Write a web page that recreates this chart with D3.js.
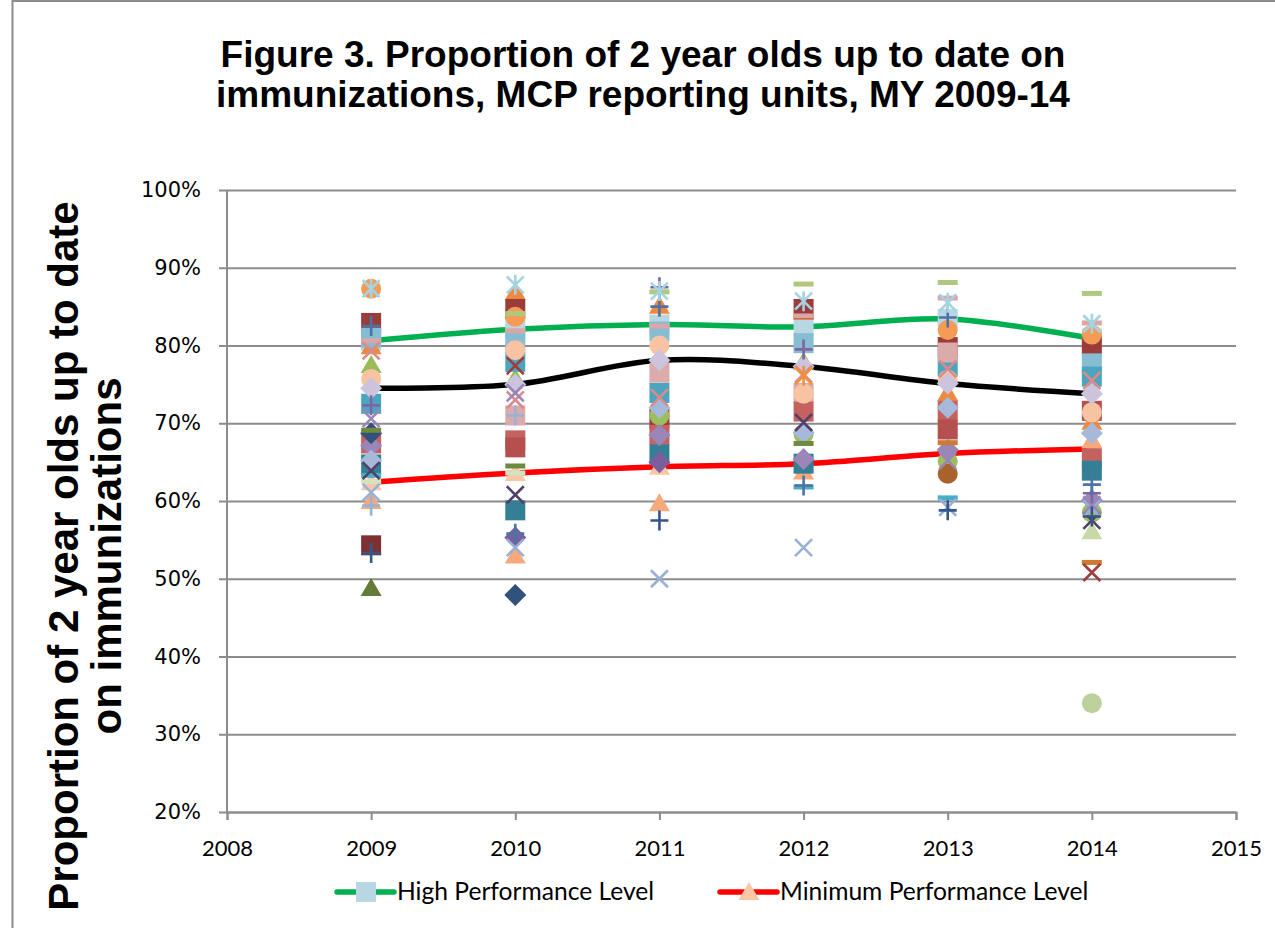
<!DOCTYPE html>
<html><head><meta charset="utf-8">
<script src="https://cdn.jsdelivr.net/npm/d3@7"></script>
<style>body{margin:0;background:#fff}</style>
</head><body>
<svg id="chart" width="1275" height="928"></svg>
<script>
// ---------- DATA ----------
const years = [2009, 2010, 2011, 2012, 2013, 2014];
const xTickValues = [2008, 2009, 2010, 2011, 2012, 2013, 2014, 2015];
const yTickValues = [20, 30, 40, 50, 60, 70, 80, 90, 100];

const highLevel = [80.6, 82.1, 82.7, 82.4, 83.4, 80.9];   // High Performance Level
const avgLevel  = [74.5, 75.0, 78.1, 77.3, 75.1, 73.8];   // average (black)
const minLevel  = [62.4, 63.6, 64.4, 64.8, 66.1, 66.7];   // Minimum Performance Level

// reporting units, one row each (values per year, % up to date)
const unitValues = [
  [79.9, 86.9, 85.1, 84.3, 73.9, 70.2],
  [77.5, 75.8, null, 77.9, null, null],
  [60.0, 53.0, 59.7, 63.8, 69.4, 67.8],
  [48.8, null, null, null, null, null],
  [null, null, null, null, null, 56.1],
  [82.9, 84.7, 70.6, 84.7, 79.8, 80.0],
  [81.0, 80.5, 81.8, 80.3, null, 77.7],
  [72.5, 77.9, 73.9, null, 77.3, 76.0],
  [null, 71.0, 76.5, 73.9, 79.1, null],
  [67.4, 67.8, 68.5, 71.5, 71.6, 65.5],
  [null, 66.9, null, null, 69.2, 71.6],
  [64.7, 58.8, 66.0, 64.8, null, 63.9],
  [54.3, null, null, null, null, null],
  [87.3, 83.7, null, null, 82.0, 81.4],
  [75.7, 79.4, 80.0, 73.8, 75.6, 71.4],
  [null, null, 71.0, 68.6, 65.1, 58.5],
  [null, null, null, null, 63.5, null],
  [null, null, null, null, null, 34.0],
  [67.1, null, 68.5, 65.4, 66.6, 60.1],
  [null, 55.3, 65.0, null, null, null],
  [65.2, null, 72.0, 68.8, 72.0, 68.7],
  [68.7, 47.9, null, null, null, null],
  [80.6, 81.9, 82.5, 83.8, 86.1, 82.9],
  [69.1, 64.5, null, 67.4, null, null],
  [63.3, null, null, 61.8, 60.4, null],
  [62.5, 63.6, null, null, null, null],
  [null, 84.1, 86.9, 87.9, 88.1, 86.7],
  [null, null, null, null, 67.5, 52.1],
  [79.3, 73.0, 73.3, 76.3, 77.0, 75.5],
  [63.9, 60.8, null, 70.1, null, 57.5],
  [61.1, 54.0, 50.0, 54.0, 59.2, 59.0],
  [null, 77.4, null, null, null, 50.8],
  [70.6, 73.9, null, null, 65.2, 59.5],
  [72.3, null, 87.5, 79.5, null, 61.0],
  [82.5, 55.8, 85.0, 62.0, 83.6, 62.1],
  [53.3, null, 57.5, null, 58.8, 58.0],
  [59.4, 71.0, null, null, null, null],
  [87.3, 87.8, 87.0, 85.7, 85.5, 82.8],
  [null, null, null, 76.1, null, null]
];

// ---------- STYLES ----------
const unitStyles = [
  ["triangle", "#ee8a3f"], ["triangle", "#9bbb59"], ["triangle", "#f7a97c"], ["triangle", "#647a37"], ["triangle", "#c8d9a6"],
  ["square", "#9b3b3a"], ["square", "#86bdd2"], ["square", "#4ba5c0"], ["square", "#dbaaaa"], ["square", "#c46260"],
  ["square", "#b5504e"], ["square", "#357f96"], ["square", "#7e3130"],
  ["circle", "#f59b55"], ["circle", "#f8c3a2"], ["circle", "#9dbd5f"], ["circle", "#a8622c"], ["circle", "#bdd19d"],
  ["diamond", "#9a87b8"], ["diamond", "#7b5e9e"], ["diamond", "#a6b9db"], ["diamond", "#33527b"],
  ["dash", "#dca6a6"], ["dash", "#6e8b3d"], ["dash", "#4bacc6"], ["dash", "#d5e2be"], ["dash", "#afc87e"], ["dash", "#cc7a34"],
  ["x", "#d98b89"], ["x", "#52406a"], ["x", "#97b0d6"], ["x", "#a03e3c"], ["x", "#9a85b8"],
  ["plus", "#7f65a3"], ["plus", "#4a73a8"], ["plus", "#34568a"], ["plus", "#95b3d7"],
  ["star", "#a5d3e2"], ["star", "#f0903f"]
];

const svg = d3.select("#chart");
const W = 1275, H = 928;
const x = d3.scaleLinear().domain([2008, 2015]).range([227, 1236]);
const y = d3.scaleLinear().domain([20, 100]).range([812, 190]);
const grid = "#8c8c8c";

// outer frame
svg.append("line").attr("x1", 12.5).attr("x2", 12.5).attr("y1", 0).attr("y2", H).attr("stroke", grid).attr("stroke-width", 2);
svg.append("line").attr("x1", 12).attr("x2", W).attr("y1", 1).attr("y2", 1).attr("stroke", grid).attr("stroke-width", 2);

// title
const title = svg.append("text").attr("x", 643).attr("text-anchor", "middle")
  .attr("font-family", "Liberation Sans, Arial, sans-serif").attr("font-weight", "bold").attr("font-size", 37);
title.append("tspan").attr("x", 643).attr("y", 67).text("Figure 3. Proportion of 2 year olds up to date on");
title.append("tspan").attr("x", 643).attr("y", 107).text("immunizations, MCP reporting units, MY 2009-14");

// y gridlines + axis
const yAxis = d3.axisLeft(y).tickValues(yTickValues).tickFormat(d => d + "%")
  .tickSize(-(1236 - 227)).tickPadding(26);
const gy = svg.append("g").attr("transform", "translate(227,0)").call(yAxis);
gy.select(".domain").remove();
gy.selectAll(".tick line").attr("stroke", grid).attr("stroke-width", 2).attr("x1", -8);
gy.selectAll(".tick text").attr("font-family", "DejaVu Sans, Verdana, sans-serif").attr("font-size", 21).attr("fill", "#000");
svg.append("line").attr("x1", 227).attr("x2", 227).attr("y1", 190).attr("y2", 812).attr("stroke", grid).attr("stroke-width", 2);

// x axis
const xAxis = d3.axisBottom(x).tickValues(xTickValues).tickFormat(d3.format("d")).tickSize(8).tickPadding(20);
const gx = svg.append("g").attr("transform", "translate(0,812)").call(xAxis);
gx.select(".domain").attr("stroke", grid).attr("stroke-width", 2);
gx.selectAll(".tick line").attr("stroke", grid).attr("stroke-width", 2);
gx.selectAll(".tick text").attr("font-family", "Lato, Calibri, sans-serif").attr("font-size", 22).attr("fill", "#000");

// y axis title
const yt = svg.append("text").attr("transform", "translate(0,556) rotate(-90)").attr("text-anchor", "middle")
  .attr("font-family", "Liberation Sans, Arial, sans-serif").attr("font-weight", "bold").attr("font-size", 42);
yt.append("tspan").attr("x", 0).attr("y", 78).text("Proportion of 2 year olds up to date");
yt.append("tspan").attr("x", 0).attr("y", 121).text("on immunizations");

// marker shapes (relative to marker centre)
function markerPath(shape) {
  switch (shape) {
    case "square": return "M-10,-10h20v20h-20z";
    case "circle": return d3.symbol(d3.symbolCircle, Math.PI * 100)();
    case "diamond": return "M0,-11L11,0L0,11L-11,0Z";
    case "triangle": return "M0,-10L10.5,8L-10.5,8Z";
    case "dash": return "M-10,-2.5h20v5h-20z";
    case "x": return "M-8.5,-8.5L8.5,8.5M-8.5,8.5L8.5,-8.5";
    case "plus": return "M-9,0H9M0,-10V10";
    case "star": return "M-8.5,-8.5L8.5,8.5M-8.5,8.5L8.5,-8.5M0,-10V10";
  }
}
const strokeShapes = new Set(["x", "plus", "star"]);
function drawMarkers(g, values, shape, color) {
  const pts = years.map((yr, i) => ({ yr, v: values[i] })).filter(d => d.v != null);
  g.selectAll(null).data(pts).join("path")
    .attr("transform", d => `translate(${x(d.yr)},${y(d.v)})`)
    .attr("d", markerPath(shape))
    .attr("fill", strokeShapes.has(shape) ? "none" : color)
    .attr("stroke", strokeShapes.has(shape) ? color : "none")
    .attr("stroke-width", 2.6);
}

// reference lines (smoothed)
const line = d3.line().x((d, i) => x(years[i])).y(d => y(d)).curve(d3.curveCardinal.tension(0));
const lines = svg.append("g");
[[highLevel, "#00b050"], [avgLevel, "#000000"], [minLevel, "#ff0000"]].forEach(([vals, c]) => {
  lines.append("path").attr("d", line(vals)).attr("fill", "none").attr("stroke", c).attr("stroke-width", 5.5);
});

// markers
const mg = svg.append("g");
drawMarkers(mg.append("g"), highLevel, "square", "#b9d7e3");
drawMarkers(mg.append("g"), minLevel, "triangle", "#f9c7a5");
unitValues.forEach((vals, i) => {
  drawMarkers(mg.append("g"), vals, unitStyles[i][0], unitStyles[i][1]);
  if (i === 21) drawMarkers(mg.append("g"), avgLevel, "diamond", "#ccc3dc");
});

// legend
const legend = [
  { label: "High Performance Level", color: "#00b050", shape: "square", mcolor: "#b9d7e3", x0: 337 },
  { label: "Minimum Performance Level", color: "#ff0000", shape: "triangle", mcolor: "#f9c7a5", x0: 720 }
];
const lg = svg.append("g");
legend.forEach(l => {
  lg.append("line").attr("x1", l.x0).attr("x2", l.x0 + 57).attr("y1", 892).attr("y2", 892)
    .attr("stroke", l.color).attr("stroke-width", 5.5).attr("stroke-linecap", "round");
  lg.append("path").attr("transform", `translate(${l.x0 + 29},892)`).attr("d", markerPath(l.shape)).attr("fill", l.mcolor);
  lg.append("text").attr("x", l.x0 + 60).attr("y", 900).attr("font-family", "Lato, Calibri, sans-serif")
    .attr("font-size", 24.6).attr("fill", "#000").text(l.label);
});
</script>
</body></html>
